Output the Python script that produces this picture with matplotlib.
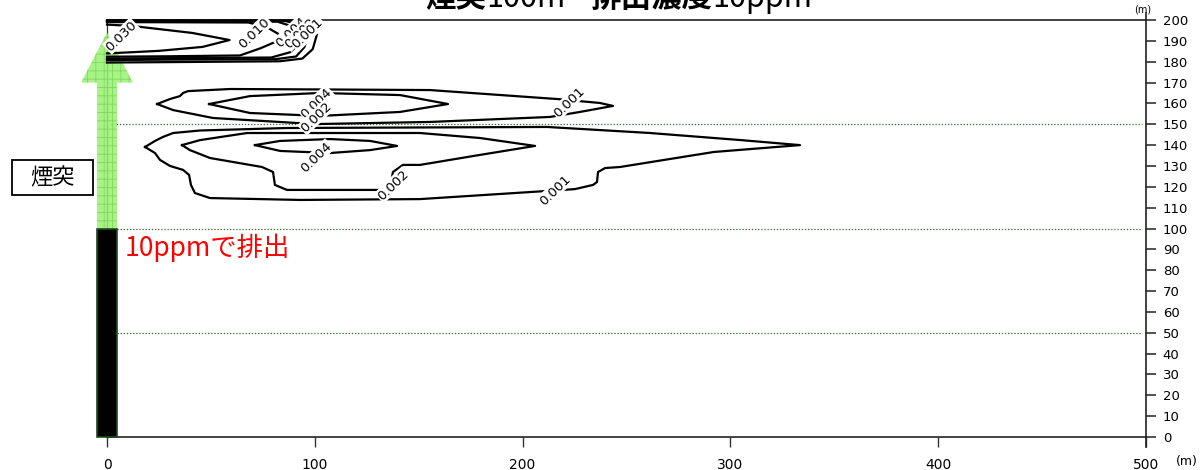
import matplotlib.pyplot as plt
from matplotlib.patches import Polygon, Rectangle

plt.rcParams['font.family'] = ['Noto Sans CJK JP', 'DejaVu Sans']
plt.rcParams['hatch.linewidth'] = 0.6
plt.rcParams['hatch.color'] = '#7fd95c'

STACK_H = 100      # chimney height (m)
STACK_W = 4.8      # half width of the drawn stack (m)

# iso-concentration lines, (x, y) in metres
# plume above the stack (touching the top boundary)
top_030 = [(0, 197.8), (12.5, 197.1), (41, 193.8), (59, 190.4), (46, 187.1), (25, 185.2), (5, 184.2), (0, 184.0)]
top_010 = [(0, 199.0), (68, 198.8), (77, 196.5), (83, 193), (85, 191.4), (81, 189.5), (74, 186.5), (64, 183.0), (30, 182.6), (0, 182.4)]
top_004 = [(0, 199.3), (82, 199.2), (89, 197), (93, 193), (92, 188), (88, 184.5), (79, 182), (30, 181.7), (0, 181.5)]
top_002 = [(0, 199.6), (86, 199.5), (93, 197.5), (97, 193), (95, 187), (91, 182.5), (81, 181.2), (30, 181.0), (0, 180.8)]
top_001 = [(0, 199.9), (90, 199.8), (97, 198), (101, 193), (99, 186), (94, 181.5), (83, 180.2), (30, 179.8), (0, 179.6)]

# layer around 160 m
mid_001 = [(24.1, 159.7), (30.3, 162.1), (35.1, 163.5), (36.6, 165.0), (39.0, 165.9), (59.2, 166.9), (101.1, 166.7),
           (155.4, 166.4), (216.6, 162.1), (237.2, 160.2), (243.5, 158.8), (227.6, 155.9), (213.2, 153.5),
           (155.4, 151.1), (101.1, 150.1), (91.4, 150.6), (51.0, 153.0), (31.8, 156.8), (24.1, 159.7)]
mid_002 = [(49.1, 159.7), (68.8, 163.5), (102.5, 165.0), (141.0, 164.0), (164.1, 159.7), (141.0, 155.9),
           (102.5, 154.0), (68.8, 155.4), (49.1, 159.7)]

# layer around 140 m
low_001 = [(18.3, 139.1), (23.1, 142.0), (26.9, 143.9), (31.8, 145.8), (44.8, 147.0), (86.6, 148.2), (211.7, 148.7),
           (261.3, 145.8), (305.0, 142.4), (333.5, 140.0), (292.0, 136.7), (246.9, 129.5), (239.7, 129.0),
           (236.3, 127.1), (235.8, 122.3), (233.9, 120.9), (225.2, 118.9), (211.7, 118.0), (150.6, 114.1),
           (92.9, 113.7), (49.6, 114.6), (42.3, 117.0), (40.4, 120.9), (39.5, 125.7), (36.6, 128.1),
           (30.3, 130.0), (25.5, 132.9), (23.1, 136.2), (18.3, 139.1)]
low_002 = [(36.1, 140.0), (44.8, 142.4), (67.4, 145.8), (150.6, 145.8), (179.5, 143.4), (206.0, 139.6),
           (179.5, 135.3), (150.6, 130.5), (142.4, 130.5), (137.6, 127.1), (136.2, 119.4), (132.8, 118.5),
           (86.6, 118.5), (80.8, 120.9), (79.9, 127.1), (74.6, 129.5), (49.6, 133.8), (39.9, 137.6), (36.1, 140.0)]
low_004 = [(71.2, 140.0), (83.3, 142.0), (107.3, 142.9), (126.6, 142.0), (139.6, 139.6), (126.6, 137.6),
           (107.3, 136.2), (83.3, 137.2), (71.2, 140.0)]

contour_lines = [top_030, top_010, top_004, top_002, top_001,
                 mid_001, mid_002, low_001, low_002, low_004]

# inline level labels: text, x, y
level_labels = [("0.030", 6.7, 192.3), ("0.010", 71.0, 193.8), ("0.004", 88.5, 194.2),
                ("0.002", 93.0, 193.6), ("0.001", 96.5, 193.6),
                ("0.004", 100.6, 160.2), ("0.002", 100.6, 153.5), ("0.001", 222.3, 160.7),
                ("0.004", 100.6, 134.3), ("0.002", 137.6, 120.9), ("0.001", 215.6, 118.5)]

x_ticks = [0, 100, 200, 300, 400, 500]
y_ticks = list(range(0, 201, 10))
guide_levels = [50, 100, 150]

# title pieces: (text, weight)
title_parts = [('煙突', 'bold'), ('100m', 'normal'), (' - ', 'bold'), ('排出濃度', 'bold'), ('10ppm', 'normal')]

fig = plt.figure(figsize=(12, 4.7), dpi=100)
ax = fig.add_axes([107 / 1200, 33 / 470, 1039 / 1200, 417 / 470])
ax.set_xlim(0, 500)
ax.set_ylim(0, 200)

# dotted reference heights
for h in guide_levels:
    ax.plot([1.5 if h == 150 else STACK_W, 498], [h, h], ls=(0, (1, 1.5)), lw=0.9, color='#2f6b2f', zorder=2)

for line in contour_lines:
    xs = [p[0] for p in line]
    ys = [p[1] for p in line]
    ax.plot(xs, ys, color='black', lw=1.6, zorder=4, solid_joinstyle='round', clip_on=False)

for txt, x, y in level_labels:
    ax.text(x, y, txt, rotation=44, ha='center', va='center', fontsize=9.5, family='DejaVu Sans',
            zorder=5, bbox=dict(boxstyle='square,pad=0.05', fc='white', ec='none'))

# stack and the rising plume arrow
ax.add_patch(Rectangle((-STACK_W, 0), 2 * STACK_W, STACK_H, fc='black', ec='#1c4d1c', lw=1.2,
                       zorder=6, clip_on=False))
arrow = Polygon([(-STACK_W, STACK_H), (STACK_W, STACK_H), (STACK_W, 170), (12.5, 170), (0, 194),
                 (-12.5, 170), (-STACK_W, 170)], closed=True, fc=(0.6, 0.95, 0.45, 0.85),
                ec='#7fd95c', lw=0, hatch='++', zorder=3, clip_on=False)
ax.add_patch(arrow)

ax.text(8.5, 90.8, '10ppmで排出', color='red', fontsize=19, va='center', ha='left', zorder=7)

# label box pointing at the stack
fig.add_artist(Rectangle((12 / 1200, 1 - 195 / 470), 81 / 1200, 35 / 470, transform=fig.transFigure,
                         fill=False, ec='black', lw=1.3))
fig.text(52 / 1200, 1 - 178 / 470, '煙突', fontsize=16, ha='center', va='center')
ax.annotate('', xy=(-5.8, 99.5), xycoords='data', xytext=(66 / 1200, 1 - 197 / 470),
            textcoords='figure fraction',
            arrowprops=dict(arrowstyle='-|>', color='black', lw=1.6, mutation_scale=22))

# title, mixed weights, partly above the canvas
prev = fig.text(425 / 1200, 1 - 14 / 470, title_parts[0][0], fontsize=22,
                fontweight=title_parts[0][1], ha='left', va='bottom')
for txt, weight in title_parts[1:]:
    prev = ax.annotate(txt, xy=(1, 0), xycoords=prev, fontsize=22, fontweight=weight,
                       ha='left', va='bottom', annotation_clip=False)

# axes cosmetics
ax.yaxis.tick_right()
ax.set_xticks(x_ticks)
ax.set_yticks(y_ticks)
ax.set_xticklabels([str(v) for v in x_ticks], family='Liberation Sans Narrow', fontsize=10)
ax.set_yticklabels([str(v) for v in y_ticks], family='DejaVu Sans', fontsize=9.5)
ax.tick_params(axis='x', direction='out', length=7, width=1, pad=8, color='#333333')
ax.tick_params(axis='y', direction='out', length=7, width=1.2, pad=5, color='#333333')
for side in ['top', 'right', 'bottom']:
    ax.spines[side].set_color('#222222')
    ax.spines[side].set_linewidth(1.2)
ax.spines['left'].set_color('#333333')
ax.spines['left'].set_linewidth(0.9)
ax.spines['right'].set_bounds(-5, 203.5)

fig.text(1143 / 1200, 1 - 10 / 470, '(m)', fontsize=7, ha='center', va='center', family='DejaVu Sans')
fig.text(1176 / 1200, 1 - 462 / 470, '(m)', fontsize=9, ha='left', va='center', family='DejaVu Sans')

fig.savefig('out.png', dpi=100)
